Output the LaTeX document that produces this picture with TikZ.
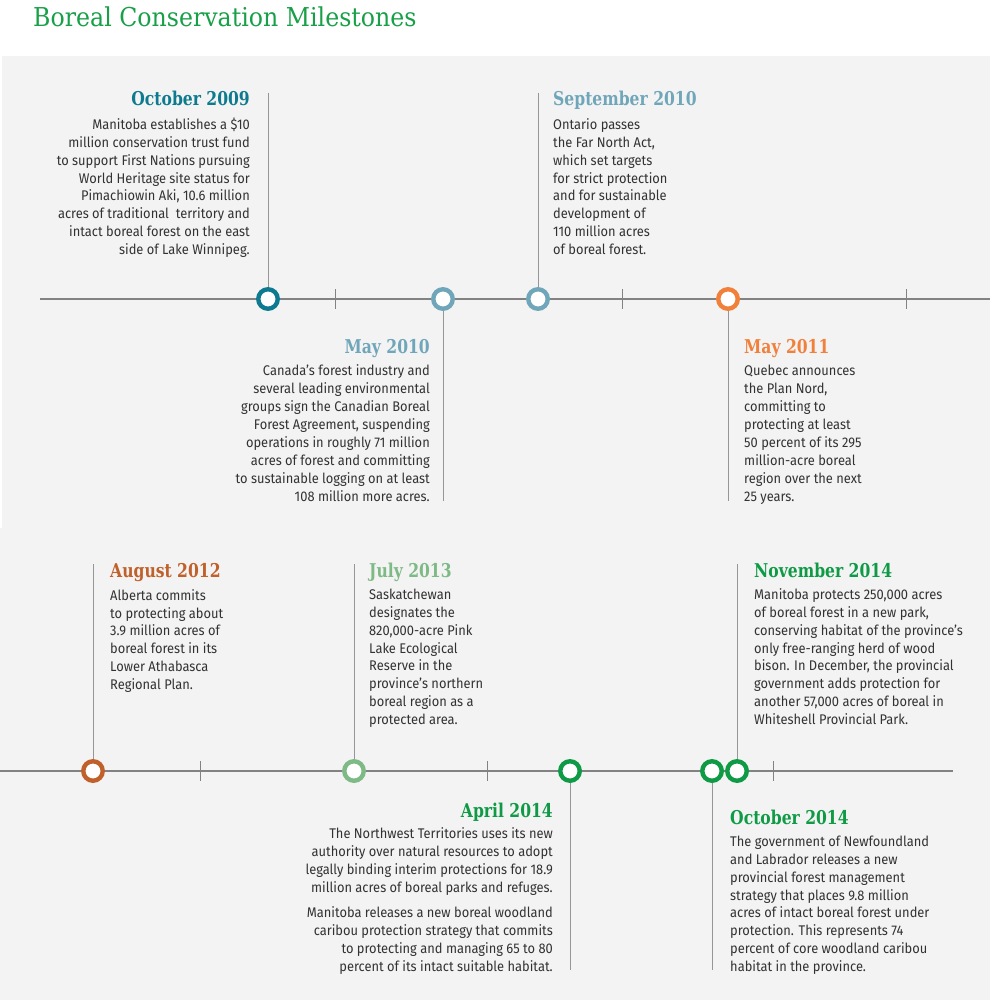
\documentclass[tikz,border=0pt]{standalone}
\usepackage{fontspec}
\setmainfont{Fira Sans}[FakeStretch=0.92]
\newfontfamily\slabfont{DejaVu Serif}[FakeStretch=0.82]
\newfontfamily\headfont{DejaVu Serif}[FakeStretch=0.91]
\usepackage{xcolor}
\definecolor{bggray}{RGB}{243,243,243}
\definecolor{axisgray}{RGB}{130,130,130}
\definecolor{stemgray}{RGB}{150,150,150}
\definecolor{bodygray}{RGB}{50,50,50}
\definecolor{titlegreen}{RGB}{24,160,72}
\definecolor{darkteal}{RGB}{14,122,143}
\definecolor{lightteal}{RGB}{112,166,185}
\definecolor{brightorange}{RGB}{240,128,58}
\definecolor{rustorange}{RGB}{192,97,43}
\definecolor{palegreen}{RGB}{125,186,133}
\definecolor{deepgreen}{RGB}{15,154,70}
\usepackage{tikz}
\usetikzlibrary{positioning}
\tikzset{
  datelbl/.style={font=\slabfont\bfseries\fontsize{19}{22}\selectfont, inner sep=0pt},
  bodytxt/.style={font=\fontsize{14}{17.86}\selectfont, text=bodygray, inner sep=0pt},
  stem/.style={draw=stemgray, line width=0.9pt},
  axis/.style={draw=axisgray, line width=2pt},
  tickmark/.style={draw=axisgray, line width=1pt},
  milestone/.style={circle, draw=#1, fill=white, line width=4.4pt, minimum size=19.5pt, inner sep=0pt}
}

\begin{document}
\begin{tikzpicture}[x=1pt, y=-1pt]
  \useasboundingbox (0,0) rectangle (990,1000);
  % Background panels
  \fill[bggray] (2,56) rectangle (990,528);
  \fill[bggray] (0,528) rectangle (990,1000);

  % Title
  \node[font=\headfont\fontsize{26}{29}\selectfont, text=titlegreen, anchor=base west, inner sep=0pt] (title) at (33,27) {Boreal Conservation Milestones};

  % --- Upper timeline ---
  \coordinate (axA1) at (40,299);
  \coordinate (axA2) at (990,299);
  \draw[axis] (axA1) -- (axA2);
  \foreach \x in {335,622,906} \draw[tickmark] (\x,289) -- (\x,309);
  \node[milestone=darkteal] (oct09) at (268,299) {};
  \node[milestone=lightteal] (may10) at (443,299) {};
  \node[milestone=lightteal] (sep10) at (538,299) {};
  \node[milestone=brightorange] (may11) at (728,299) {};

  % October 2009 (text anchored on its last line)
  \coordinate (oct09top) at (268,93);
  \draw[stem] (oct09top) -- (oct09);
  \node[datelbl, text=darkteal, anchor=base east] (oct09date) at (250,106) {October 2009};
  \node[bodytxt, align=right, anchor=base east] (oct09txt) at (250,254.5) {Manitoba establishes a \$10\\
    million conservation trust fund\\
    to support First Nations pursuing\\
    World Heritage site status for\\
    Pimachiowin Aki, 10.6 million\\
    acres of traditional~ territory and\\
    intact boreal forest on the east\\
    side of Lake Winnipeg.};

  % September 2010
  \coordinate (sep10top) at (538,93);
  \draw[stem] (sep10top) -- (sep10);
  \node[datelbl, text=lightteal, anchor=base west] (sep10date) at (553,106) {September 2010};
  \node[bodytxt, align=left, anchor=base west] (sep10txt) at (553,254.5) {Ontario passes\\
    the Far North Act,\\
    which set targets\\
    for strict protection\\
    and for sustainable\\
    development of\\
    110 million acres\\
    of boreal forest.};

  % May 2010
  \coordinate (may10end) at (443,501);
  \draw[stem] (may10) -- (may10end);
  \node[datelbl, text=lightteal, anchor=base east] (may10date) at (430,353) {May 2010};
  \node[bodytxt, align=right, anchor=base east] (may10txt) at (430,501) {Canada’s forest industry and\\
    several leading environmental\\
    groups sign the Canadian Boreal\\
    Forest Agreement, suspending\\
    operations in roughly 71 million\\
    acres of forest and committing\\
    to sustainable logging on at least\\
    108 million more acres.};

  % May 2011
  \coordinate (may11end) at (728,501);
  \draw[stem] (may11) -- (may11end);
  \node[datelbl, text=brightorange, anchor=base west] (may11date) at (744,353) {May 2011};
  \node[bodytxt, align=left, anchor=base west] (may11txt) at (744,501) {Quebec announces\\
    the Plan Nord,\\
    committing to\\
    protecting at least\\
    50 percent of its 295\\
    million-acre boreal\\
    region over the next\\
    25 years.};

  % --- Lower timeline ---
  \coordinate (axB1) at (0,771);
  \coordinate (axB2) at (953,771);
  \draw[axis] (axB1) -- (axB2);
  \foreach \x in {200,487,773} \draw[tickmark] (\x,761) -- (\x,781);
  \node[milestone=rustorange] (aug12) at (93,771) {};
  \node[milestone=palegreen] (jul13) at (354,771) {};
  \node[milestone=deepgreen] (apr14) at (570,771) {};
  \node[milestone=deepgreen] (oct14) at (712,771) {};
  \node[milestone=deepgreen] (nov14) at (737,771) {};

  % August 2012
  \coordinate (aug12top) at (93,564);
  \draw[stem] (aug12top) -- (aug12);
  \node[datelbl, text=rustorange, anchor=base west] (aug12date) at (110,577) {August 2012};
  \node[bodytxt, align=left, anchor=base west] (aug12txt) at (110,689.5) {Alberta commits\\
    to protecting about\\
    3.9 million acres of\\
    boreal forest in its\\
    Lower Athabasca\\
    Regional Plan.};

  % July 2013
  \coordinate (jul13top) at (354,564);
  \draw[stem] (jul13top) -- (jul13);
  \node[datelbl, text=palegreen, anchor=base west] (jul13date) at (369,577) {July 2013};
  \node[bodytxt, align=left, anchor=base west] (jul13txt) at (369,724.5) {Saskatchewan\\
    designates the\\
    820,000-acre Pink\\
    Lake Ecological\\
    Reserve in the\\
    province’s northern\\
    boreal region as a\\
    protected area.};

  % November 2014
  \coordinate (nov14top) at (737,564);
  \draw[stem] (nov14top) -- (nov14);
  \node[datelbl, text=deepgreen, anchor=base west] (nov14date) at (754,577) {November 2014};
  \node[bodytxt, align=left, anchor=base west] (nov14txt) at (754,724.5) {Manitoba protects 250,000 acres\\
    of boreal forest in a new park,\\
    conserving habitat of the province’s\\
    only free-ranging herd of wood\\
    bison. In December, the provincial\\
    government adds protection for\\
    another 57,000 acres of boreal in\\
    Whiteshell Provincial Park.};

  % April 2014
  \coordinate (apr14end) at (570,970);
  \draw[stem] (apr14) -- (apr14end);
  \node[datelbl, text=deepgreen, anchor=base east] (apr14date) at (553,817) {April 2014};
  \node[bodytxt, align=right, anchor=base east] (apr14txt) at (553,892.5) {The Northwest Territories uses its new\\
    authority over natural resources to adopt\\
    legally binding interim protections for 18.9\\
    million acres of boreal parks and refuges.};
  \node[bodytxt, align=right, anchor=base east] (apr14more) at (553,971.5) {Manitoba releases a new boreal woodland\\
    caribou protection strategy that commits\\
    to protecting and managing 65 to 80\\
    percent of its intact suitable habitat.};

  % October 2014
  \coordinate (oct14end) at (712,970);
  \draw[stem] (oct14) -- (oct14end);
  \node[datelbl, text=deepgreen, anchor=base west] (oct14date) at (730,824) {October 2014};
  \node[bodytxt, align=left, anchor=base west] (oct14txt) at (730,971.5) {The government of Newfoundland\\
    and Labrador releases a new\\
    provincial forest management\\
    strategy that places 9.8 million\\
    acres of intact boreal forest under\\
    protection. This represents 74\\
    percent of core woodland caribou\\
    habitat in the province.};
\end{tikzpicture}
\end{document}
